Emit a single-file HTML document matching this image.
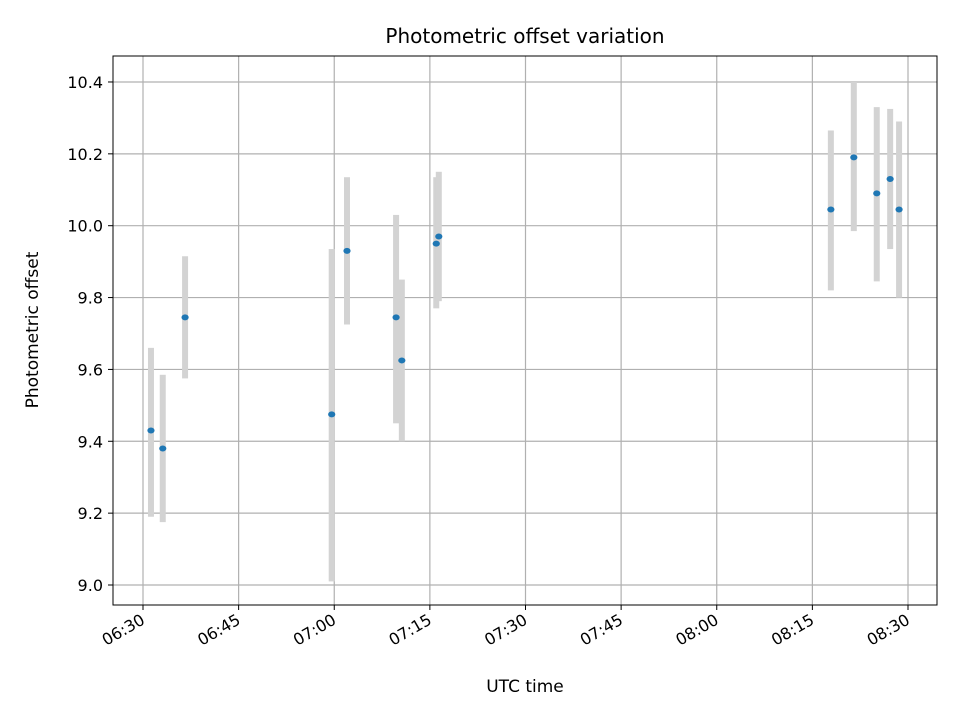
<!DOCTYPE html>
<html><head><meta charset="utf-8"><style>
body{margin:0;background:#fff}
svg{display:block;font-family:"DejaVu Sans","Liberation Sans",sans-serif}
</style></head><body>
<svg id="chart" width="960" height="720" viewBox="0 0 960 720">
<rect width="960" height="720" fill="#fff"/>
<g id="grid"></g>
<g id="bars"></g>
<g id="pts"></g>
<rect x="113" y="56" width="824" height="549" fill="none" stroke="#000" stroke-width="1"/>
<g id="xt"></g>
<g id="yt"></g>
<text x="525" y="43" text-anchor="middle" font-size="20">Photometric offset variation</text>
<text x="525" y="692" text-anchor="middle" font-size="17">UTC time</text>
<text transform="translate(38,330) rotate(-90)" text-anchor="middle" font-size="17">Photometric offset</text>
</svg>
<script>
// minutes after 06:30 UTC
const times = [1.25,3.1,6.6,29.6,32.0,39.7,40.6,46.0,46.4,107.9,111.5,115.1,117.2,118.6];
const values = [9.43,9.38,9.745,9.475,9.93,9.745,9.625,9.95,9.97,10.045,10.19,10.09,10.13,10.045];
const errLow = [9.19,9.175,9.575,9.01,9.725,9.45,9.40,9.77,9.79,9.82,9.985,9.845,9.935,9.80];
const errHigh = [9.66,9.585,9.915,9.935,10.135,10.03,9.85,10.135,10.15,10.265,10.40,10.33,10.325,10.29];
const xTickMin = [0,15,30,45,60,75,90,105,120];
const xTickLabels = ["06:30","06:45","07:00","07:15","07:30","07:45","08:00","08:15","08:30"];
const yTicks = [9.0,9.2,9.4,9.6,9.8,10.0,10.2,10.4];

const NS="http://www.w3.org/2000/svg";
const X=m=>143+m*6.375;
const Y=v=>585-(v-9)*359.3;
function mk(t,a,p){const e=document.createElementNS(NS,t);for(const k in a)e.setAttribute(k,a[k]);p.appendChild(e);return e;}
const grid=document.getElementById('grid'),xt=document.getElementById('xt'),yt=document.getElementById('yt');
xTickMin.forEach((m,i)=>{
  const g=mk('line',{x1:X(m),x2:X(m),y1:56,y2:605,stroke:'#b0b0b0','stroke-width':1.2},grid);
  
  
  const t=mk('line',{x1:X(m),x2:X(m),y1:605,y2:610,stroke:'#000'},xt);
  
  
  const l=mk('text',{x:X(m)+3,y:623,'text-anchor':'end','font-size':16,transform:`rotate(-30 ${X(m)+3} 623)`},xt);
  l.textContent=xTickLabels[i];
  
  
});
yTicks.forEach(v=>{
  const g=mk('line',{x1:113,x2:937,y1:Y(v),y2:Y(v),stroke:'#b0b0b0','stroke-width':1.2},grid);
  
  
  const t=mk('line',{x1:108,x2:113,y1:Y(v),y2:Y(v),stroke:'#000'},yt);
  
  
  const l=mk('text',{x:103,y:Y(v)+6,'text-anchor':'end','font-size':16},yt);
  l.textContent=v.toFixed(1);
  
  
});
const bars=document.getElementById('bars'),pts=document.getElementById('pts');
times.forEach((m,i)=>{
  const b=mk('rect',{x:X(m)-3,y:Y(errHigh[i]),width:6,height:Y(errLow[i])-Y(errHigh[i]),fill:'#d3d3d3'},bars);
  
  
});
times.forEach((m,i)=>{
  const p=mk('ellipse',{cx:X(m),cy:Y(values[i]),rx:3.6,ry:3,fill:'#1f77b4'},pts);
  
  
});
</script>
</body></html>
